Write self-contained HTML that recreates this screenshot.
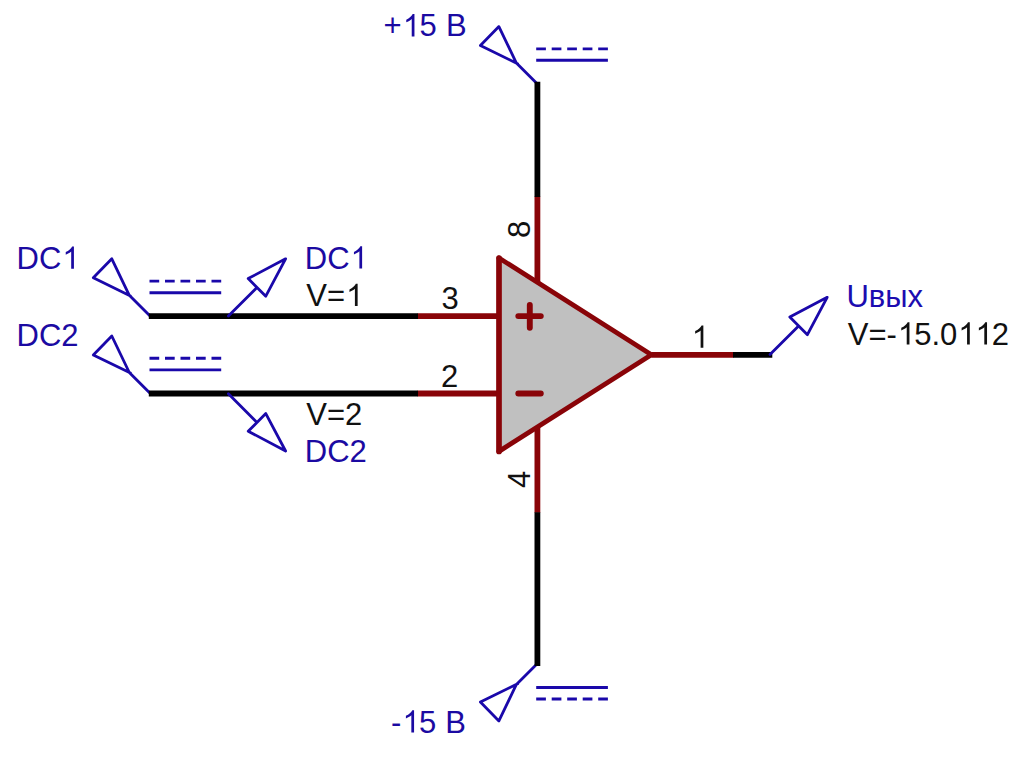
<!DOCTYPE html>
<html><head><meta charset="utf-8">
<style>
html,body{margin:0;padding:0;background:#fff;}
body{width:1024px;height:768px;overflow:hidden;}
svg{display:block;}
text{font-family:"Liberation Sans",sans-serif;font-size:31.0px;}
.b{fill:#1b0aa2;}
.k{fill:#111;}
.bl{stroke:#1a08aa;stroke-width:2.8;fill:none;stroke-linejoin:round;stroke-linecap:round;}
.bd{stroke:#1a08aa;stroke-width:2.9;fill:none;stroke-linecap:butt;}
.w{stroke:#000;stroke-width:5.8;fill:none;}
.r{stroke:#890408;stroke-width:5.8;fill:none;}
</style></head><body>
<svg width="1024" height="768" viewBox="0 0 1024 768">
<defs><path id="one" d="M763 0H583V1147Q518 1085 412 1023Q307 961 223 930V1104Q374 1175 487 1276Q600 1377 647 1472H763Z"/></defs>
<rect width="1024" height="768" fill="#fff"/>

<path class="r" d="M417.6 316.2H499M417.6 393.5H499M537.4 196.5V282M537.4 427.5V512.8M651.4 354.8H733.5"/>
<path d="M499 258L651.4 354.7L499 451.4Z" fill="#c0c0c0"/><path d="M499 258L651.4 354.7L499 451.4" fill="none" stroke="#890408" stroke-width="4.8" stroke-linejoin="round" stroke-linecap="round"/><path d="M499 258V451.4" fill="none" stroke="#890408" stroke-width="5.7" stroke-linecap="round"/>
<path d="M518.3 316.1H540.8M529.8 305V327.7M518.3 393.5H540.8" stroke="#890408" stroke-width="5.9" stroke-linecap="round" fill="none"/>
<path class="bl" d="M150.3 316.3L129.3 295.3L111.8 258.8L93.3 277.7L130.5 295.9"/><path class="bd" d="M149.5 292.7h71.7"/><path class="bd" d="M149.5 281.1h71.7" stroke-dasharray="9.7 5.8"/>
<path class="bl" d="M150.3 393.5L129.3 372.5L111.8 336.0L93.3 354.9L130.5 373.1"/><path class="bd" d="M149.5 369.9h71.7"/><path class="bd" d="M149.5 358.3h71.7" stroke-dasharray="9.7 5.8"/>
<path class="bl" d="M537.4 84.1L516.4 63.1L498.9 26.6L480.4 45.5L517.6 63.7"/><path class="bd" d="M536.2 60.3h71.7"/><path class="bd" d="M536.2 48.9h71.7" stroke-dasharray="9.7 5.8"/>
<path class="bl" d="M537.4 663.4L516.4 684.4L498.9 720.9L480.4 702.0L517.6 683.8"/><path class="bd" d="M536.2 687.5h71.7"/><path class="bd" d="M536.2 699.0h71.7" stroke-dasharray="9.7 5.8"/>
<path class="w" d="M148.8 316.2H418M148.8 393.5H418M537.4 81.8V197M537.4 512.3V666M733 354.8H772.3"/>
<path class="bl" d="M228.4 316.0L257.0 287.4M285.6 258.8L248.2 278.6L265.8 296.2Z"/>
<path class="bl" d="M228.4 393.8L257.0 422.4M285.6 451.0L248.2 431.2L265.8 413.6Z"/>
<path class="bl" d="M770.0 354.5L798.6 325.9M827.2 297.3L789.8 317.1L807.4 334.7Z"/>
<text class="b" transform="translate(0 268.80) scale(1 1.04)" x="16.60 38.99" y="0" style="font-size:31.0px">DC</text>
<use href="#one" class="b" transform="translate(62.37 268.80) scale(0.015137 -0.015137)"/>
<text class="b" transform="translate(0 345.80) scale(1 1.04)" x="16.60 38.99 61.37" y="0" style="font-size:31.0px">DC2</text>
<text class="b" transform="translate(0 268.60) scale(1 1.04)" x="304.80 327.19" y="0" style="font-size:31.0px">DC</text>
<use href="#one" class="b" transform="translate(350.57 268.60) scale(0.015137 -0.015137)"/>
<text class="k" transform="translate(0 306.10) scale(1 1.04)" x="306.30 326.98" y="0" style="font-size:31.0px">V=</text>
<use href="#one" class="k" transform="translate(346.08 306.10) scale(0.015137 -0.015137)"/>
<text class="k" transform="translate(0 425.00) scale(1 1.04)" x="306.30 326.98 345.08" y="0" style="font-size:31.0px">V=2</text>
<text class="b" transform="translate(0 461.90) scale(1 1.04)" x="304.80 327.19 349.57" y="0" style="font-size:31.0px">DC2</text>
<text class="b" transform="translate(0 36.40) scale(1 1.04)" x="383.50 419.44 445.90" y="0" style="font-size:31.0px">+5B</text>
<use href="#one" class="b" transform="translate(402.90 36.40) scale(0.015137 -0.015137)"/>
<text class="b" transform="translate(0 732.50) scale(1 1.04)" x="391.00 418.96 445.22" y="0" style="font-size:31.0px">-5B</text>
<use href="#one" class="b" transform="translate(402.52 732.50) scale(0.015137 -0.015137)"/>
<text class="b" style="fill:#1c0cb0" transform="translate(0 306.9) scale(1 1.04)" x="846.5" y="0">Uвых</text>
<text class="k" transform="translate(0 344.50) scale(1 1.04)" x="847.80 868.48 886.58 914.14 931.38 940.00 991.72" y="0" style="font-size:31.0px">V=-5.02</text>
<use href="#one" class="k" transform="translate(897.90 344.50) scale(0.015137 -0.015137)"/>
<use href="#one" class="k" transform="translate(958.24 344.50) scale(0.015137 -0.015137)"/>
<use href="#one" class="k" transform="translate(975.48 344.50) scale(0.015137 -0.015137)"/>
<text class="k" transform="translate(0 308.80) scale(1 1.04)" x="441.50" y="0" style="font-size:31.0px">3</text>
<text class="k" transform="translate(0 386.60) scale(1 1.04)" x="441.00" y="0" style="font-size:31.0px">2</text>
<use href="#one" class="k" transform="translate(691.80 347.80) scale(0.015137 -0.015137)"/>
<g transform="translate(530.30 238.00) rotate(-90)"><text class="k" transform="translate(0 0.00) scale(1 1.04)" x="0.00" y="0" style="font-size:31.0px">8</text></g>
<g transform="translate(530.30 488.00) rotate(-90)"><text class="k" transform="translate(0 0.00) scale(1 1.04)" x="0.00" y="0" style="font-size:31.0px">4</text></g>
</svg>
</body></html>
